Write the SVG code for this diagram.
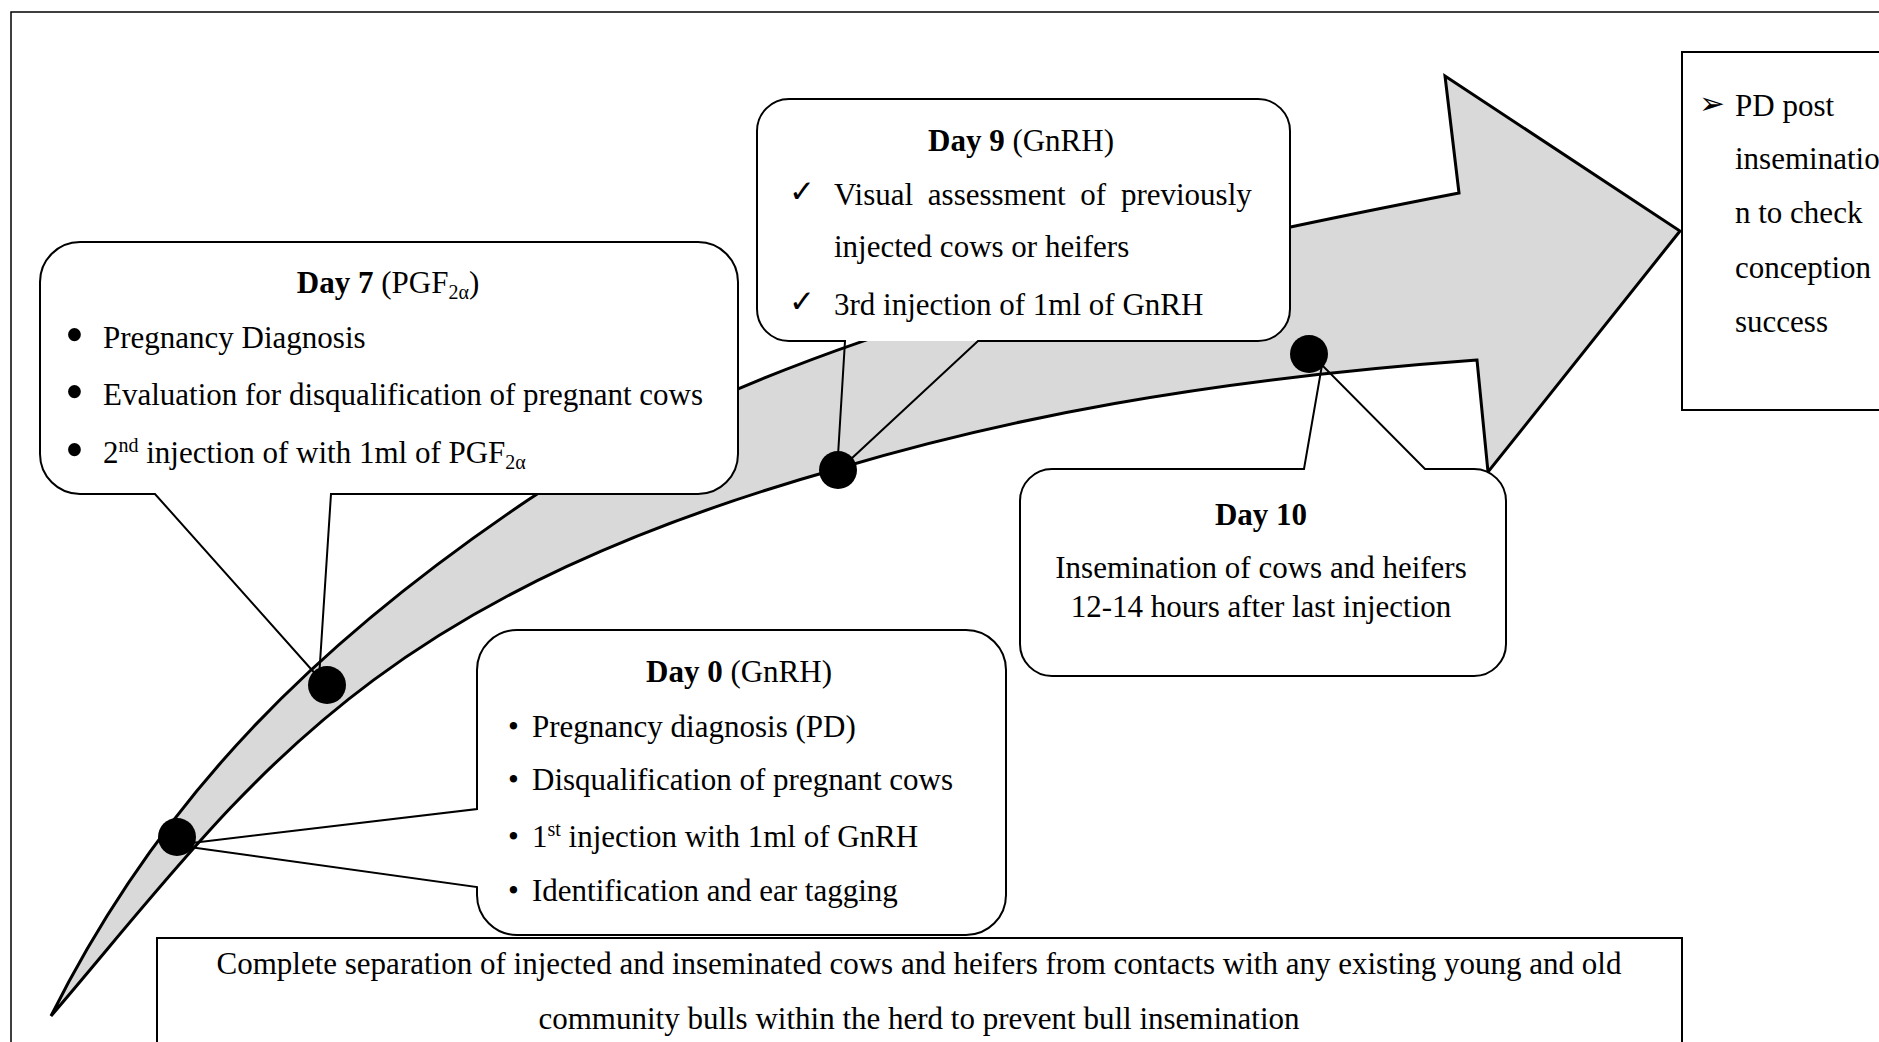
<svg xmlns="http://www.w3.org/2000/svg" width="1879" height="1042" viewBox="0 0 1879 1042">
<style>
  text { font-family: "Liberation Serif", "Times New Roman", serif; font-size: 31px; fill: #000; }
  .b { font-weight: bold; }
  .sym { font-family: "DejaVu Sans", sans-serif; }
  .big { font-size: 54px; }
  .body { fill: #fff; stroke: none; }
  .outline { fill: none; stroke: #000; stroke-width: 2; stroke-linejoin: miter; }
  .box { fill: #fff; stroke: #000; stroke-width: 2; }
  .dot { fill: #000; }
</style>
<rect x="0" y="0" width="1879" height="1042" fill="#fff"/>
<rect id="frame" x="11" y="12" width="2000" height="2000" fill="none" stroke="#000" stroke-width="1.5"/>

<g id="connectors">
  <path id="timeline-arrow" d="M 1459,193 L 1445,76 L 1680,231 L 1488,472 L 1477,360 C 1200,380 1000,420 840,468 C 360,603 246,788 51,1016 C 162.75,792.5 320.5,640 528,500 C 777,332 1165,250 1459,193 Z" fill="#d9d9d9" stroke="#000" stroke-width="3" stroke-linejoin="miter"/>
</g>

<g id="day7">
  <rect class="body" x="40" y="242" width="698" height="252" rx="40"/>
  <path class="outline" d="M 80,242 H 698 A 40 40 0 0 1 738,282 V 454 A 40 40 0 0 1 698,494 H 331 L 319,678 L 155,494 H 80 A 40 40 0 0 1 40,454 V 282 A 40 40 0 0 1 80,242 Z"/>
  <text x="388" y="293" text-anchor="middle"><tspan class="b">Day 7</tspan> (PGF<tspan font-size="20" dy="6">2α</tspan><tspan dy="-6">)</tspan></text>
  <text class="big" x="65" y="353">•</text>
  <text x="103" y="348">Pregnancy Diagnosis</text>
  <text class="big" x="65" y="410">•</text>
  <text x="103" y="405">Evaluation for disqualification of pregnant cows</text>
  <text class="big" x="65" y="468">•</text>
  <text x="103" y="463">2<tspan font-size="20" dy="-11">nd</tspan><tspan dy="11"> injection of with 1ml of PGF</tspan><tspan font-size="20" dy="6">2α</tspan></text>
</g>

<g id="day9">
  <rect class="body" x="757" y="99" width="533" height="242" rx="32"/>
  <path class="outline" d="M 789,99 H 1258 A 32 32 0 0 1 1290,131 V 309 A 32 32 0 0 1 1258,341 H 978 L 837,472 L 845,341 H 789 A 32 32 0 0 1 757,309 V 131 A 32 32 0 0 1 789,99 Z"/>
  <text x="1021" y="151" text-anchor="middle"><tspan class="b">Day 9</tspan> (GnRH)</text>
  <text class="sym" x="789" y="202" font-size="20">✓</text>
  <text x="834" y="205" word-spacing="7">Visual assessment of previously</text>
  <text x="834" y="257">injected cows or heifers</text>
  <text class="sym" x="789" y="312" font-size="20">✓</text>
  <text x="834" y="315">3rd injection of 1ml of GnRH</text>
</g>

<g id="day10">
  <rect class="body" x="1020" y="469" width="486" height="207" rx="32"/>
  <path class="outline" d="M 1052,469 H 1304 L 1322,365 L 1425,469 H 1474 A 32 32 0 0 1 1506,501 V 644 A 32 32 0 0 1 1474,676 H 1052 A 32 32 0 0 1 1020,644 V 501 A 32 32 0 0 1 1052,469 Z"/>
  <text class="b" x="1261" y="525" text-anchor="middle">Day 10</text>
  <text x="1261" y="578" text-anchor="middle">Insemination of cows and heifers</text>
  <text x="1261" y="617" text-anchor="middle">12-14 hours after last injection</text>
</g>

<g id="day0">
  <rect class="body" x="477" y="630" width="529" height="305" rx="40"/>
  <path class="outline" d="M 517,630 H 966 A 40 40 0 0 1 1006,670 V 895 A 40 40 0 0 1 966,935 H 517 A 40 40 0 0 1 477,895 V 887 L 175,845 L 477,809 V 670 A 40 40 0 0 1 517,630 Z"/>
  <text x="739" y="682" text-anchor="middle"><tspan class="b">Day 0</tspan> (GnRH)</text>
  <text x="508" y="737">•</text>
  <text x="532" y="737">Pregnancy diagnosis (PD)</text>
  <text x="508" y="790">•</text>
  <text x="532" y="790">Disqualification of pregnant cows</text>
  <text x="508" y="847">•</text>
  <text x="532" y="847">1<tspan font-size="20" dy="-11">st</tspan><tspan dy="11"> injection with 1ml of GnRH</tspan></text>
  <text x="508" y="901">•</text>
  <text x="532" y="901">Identification and ear tagging</text>
</g>

<g id="markers">
  <circle class="dot" cx="177" cy="837" r="19"/>
  <circle class="dot" cx="327" cy="685" r="19"/>
  <circle class="dot" cx="838" cy="470" r="19"/>
  <circle class="dot" cx="1309" cy="354" r="19"/>
</g>

<g id="pd-post">
  <rect class="box" x="1682" y="52" width="300" height="358"/>
  <text class="sym" x="1699" y="114" font-size="56">➢</text>
  <text x="1735" y="116">PD post</text>
  <text x="1735" y="169">inseminatio</text>
  <text x="1735" y="223">n to check</text>
  <text x="1735" y="278">conception</text>
  <text x="1735" y="332">success</text>
</g>

<g id="separation">
  <rect class="box" x="157" y="938" width="1525" height="200"/>
  <text x="919" y="974" text-anchor="middle">Complete separation of injected and inseminated cows and heifers from contacts with any existing young and old</text>
  <text x="919" y="1029" text-anchor="middle">community bulls within the herd to prevent bull insemination</text>
</g>
</svg>
